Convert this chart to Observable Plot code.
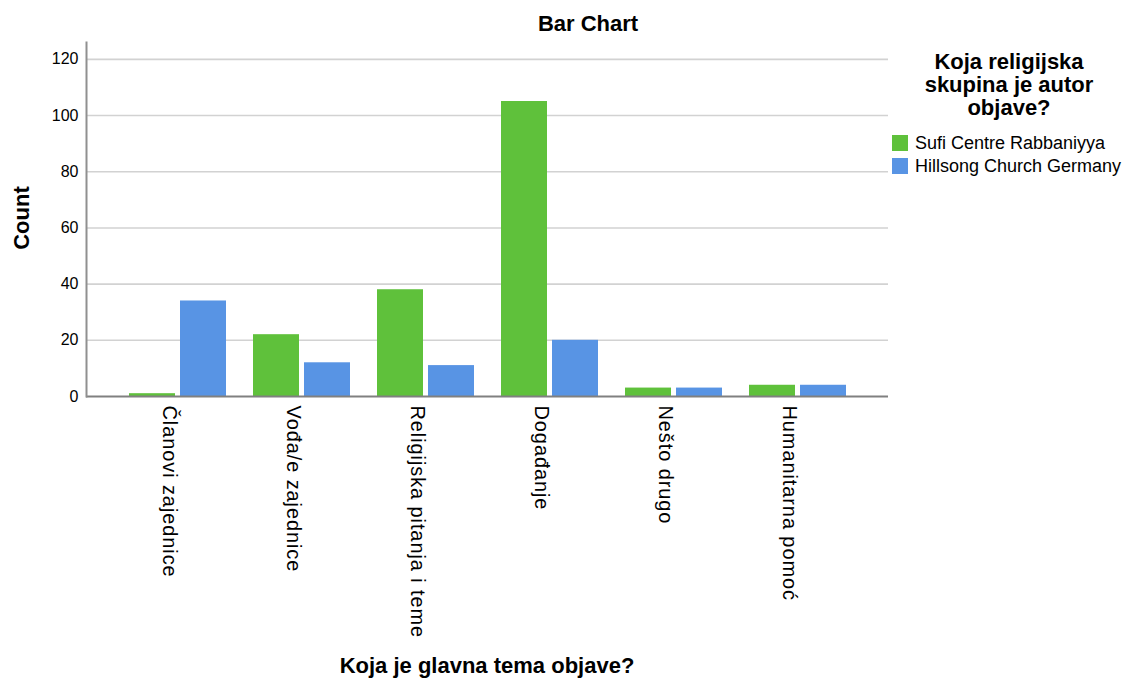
<!DOCTYPE html>
<html>
<head>
<meta charset="utf-8">
<script src="https://cdn.jsdelivr.net/npm/d3@7"></script>
<script src="https://cdn.jsdelivr.net/npm/@observablehq/plot@0.6"></script>
<style>
  html, body { margin: 0; padding: 0; background: #fff; }
  #wrap { position: relative; width: 1126px; height: 681px; overflow: hidden; font-family: "Liberation Sans", Arial, sans-serif; color: #000; }
  #chart { position: absolute; left: 0; top: 0; }
  .t { position: absolute; white-space: nowrap; font-weight: bold; }
  #title { left: 588px; top: 24px; transform: translate(-50%, -50%); font-size: 22px; }
  #ylab { left: 22px; top: 218px; transform: translate(-50%, -50%) rotate(-90deg); font-size: 22px; }
  #xlab { left: 487px; top: 666px; transform: translate(-50%, -50%); font-size: 22px; }
  #legend { position: absolute; left: 888px; top: 50px; width: 238px; }
  #legtitle { position: absolute; left: 121px; top: 0; transform: translateX(-50%); text-align: center; font-weight: bold; font-size: 22px; line-height: 23px; white-space: nowrap; }
  .item { position: absolute; left: 4px; font-size: 18px; white-space: nowrap; }
  .sw { display: inline-block; width: 16px; height: 16px; vertical-align: -2px; margin-right: 7px; }
  svg g[aria-label="x-axis tick label"] text { letter-spacing: 0.9px; }
</style>
</head>
<body>
<div id="wrap">
  <div id="chart"></div>
  <div class="t" id="title">Bar Chart</div>
  <div class="t" id="ylab">Count</div>
  <div class="t" id="xlab">Koja je glavna tema objave?</div>
  <div id="legend"></div>
</div>
<script>
const categories = ["Članovi zajednice", "Vođa/e zajednice", "Religijska pitanja i teme", "Događanje", "Nešto drugo", "Humanitarna pomoć"];
const seriesNames = ["Sufi Centre Rabbaniyya", "Hillsong Church Germany"];
const sufiValues = [1, 22, 38, 105, 3, 4];
const hillsongValues = [34, 12, 11, 20, 3, 4];
const yTicks = [0, 20, 40, 60, 80, 100, 120];
const legendTitleLines = ["Koja religijska", "skupina je autor", "objave?"];
const colors = ["#5fc13b", "#5894e4"];

const rows = categories.map((c, i) => ({category: c, sufi: sufiValues[i], hillsong: hillsongValues[i]}));

const chart = Plot.plot({
  width: 1126,
  height: 681,
  marginTop: 42,
  marginBottom: 285,
  marginLeft: 86,
  marginRight: 238,
  style: {fontFamily: '"Liberation Sans", Arial, sans-serif', color: "#000", background: "transparent"},
  x: {domain: categories, paddingInner: 0.22, paddingOuter: 0.338},
  y: {domain: [0, 126]},
  marks: [
    Plot.ruleY(yTicks.filter(d => d > 0), {stroke: "#d2d2d2", strokeWidth: 1.6}),
    Plot.barY(rows, {x: "category", y: "sufi", fill: colors[0], insetRight: 51}),
    Plot.barY(rows, {x: "category", y: "hillsong", fill: colors[1], insetLeft: 51}),
    Plot.ruleY([0], {stroke: "#808080", strokeWidth: 2}),
    Plot.frame({anchor: "left", stroke: "#909090", strokeWidth: 2}),
    Plot.axisY({ticks: yTicks, tickSize: 0, tickPadding: 8, fontSize: 16, label: null, fill: "#000"}),
    Plot.axisX({tickRotate: 90, tickSize: 0, tickPadding: 9, fontSize: 20, label: null, fill: "#000"})
  ]
});
document.getElementById("chart").appendChild(chart);

// shift rotated category labels slightly left, as in the reference
d3.select(chart).selectAll('g[aria-label="x-axis tick label"]').each(function() {
  const g = d3.select(this);
  const tr = g.attr("transform") || "";
  g.attr("transform", "translate(-9,0) " + tr);
});

const legend = document.getElementById("legend");
const lt = document.createElement("div");
lt.id = "legtitle";
lt.innerHTML = legendTitleLines.join("<br>");
legend.appendChild(lt);
seriesNames.forEach((name, i) => {
  const it = document.createElement("div");
  it.className = "item";
  it.style.top = (83 + i * 23) + "px";
  const sw = document.createElement("span");
  sw.className = "sw";
  sw.style.background = colors[i];
  it.appendChild(sw);
  it.appendChild(document.createTextNode(name));
  legend.appendChild(it);
});
</script>
</body>
</html>
